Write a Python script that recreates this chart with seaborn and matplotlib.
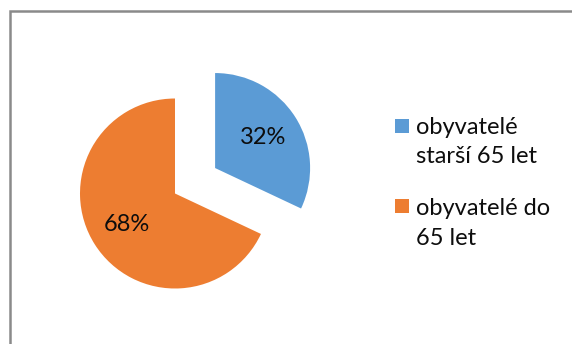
import matplotlib
matplotlib.use("Agg")
import matplotlib.pyplot as plt
import seaborn as sns
from matplotlib.patches import Rectangle

# Population shares by age group
categories = ["obyvatelé\nstarší 65 let", "obyvatelé do\n65 let"]
shares = [32, 68]
slice_colors = ["#5B9BD5", "#ED7D31"]

sns.set_theme(style="white")
plt.rcParams["font.family"] = ["Lato", "DejaVu Sans"]

W, H = 572, 344
FS = 17
fig = plt.figure(figsize=(W / 100, H / 100), dpi=100)
fig.patch.set_facecolor("white")
ax = fig.add_axes([0, 0, 1, 1])

palette = sns.color_palette(slice_colors)
wedges, _, autotexts = ax.pie(
    shares,
    colors=palette,
    startangle=90,
    counterclock=False,
    explode=[0.5, 0.0],
    autopct=lambda p: f"{p:.0f}%",
    pctdistance=0.6,
    wedgeprops=dict(linewidth=0),
    textprops=dict(fontsize=FS, color="#0d0d0d"),
)

# place the pie: center at (175, 193.5) px, radius 95 px
cx, cy, r = 175.0, 193.5, 95.0
ax.set_aspect("auto")
ax.set_xlim(-cx / r, (W - cx) / r)
ax.set_ylim(-(H - cy) / r, cy / r)
ax.axis("off")

# legend: colour square beside wrapped label lines
def fy(py):
    return 1 - py / H

square_tops = [119.0, 199.3]
line_baselines = [[134.3, 163.3], [215.0, 245.0]]
for color, label, top, baselines in zip(palette, categories, square_tops, line_baselines):
    fig.patches.append(Rectangle((394.5 / W, fy(top + 13.8)), 14.5 / W, 13.8 / H,
                                 transform=fig.transFigure, facecolor=color,
                                 edgecolor="none"))
    for line, base in zip(label.split("\n"), baselines):
        fig.text(416 / W, fy(base), line, fontsize=FS, color="#0d0d0d",
                 ha="left", va="baseline")

# chart area border (continues past the right and bottom edges)
fig.patches.append(Rectangle((10 / W, -0.5), 2.0, fy(11.3) + 0.5,
                             transform=fig.transFigure, facecolor="none",
                             edgecolor="#8a8a8a", linewidth=1.8))

fig.savefig("out.png", dpi=100)
